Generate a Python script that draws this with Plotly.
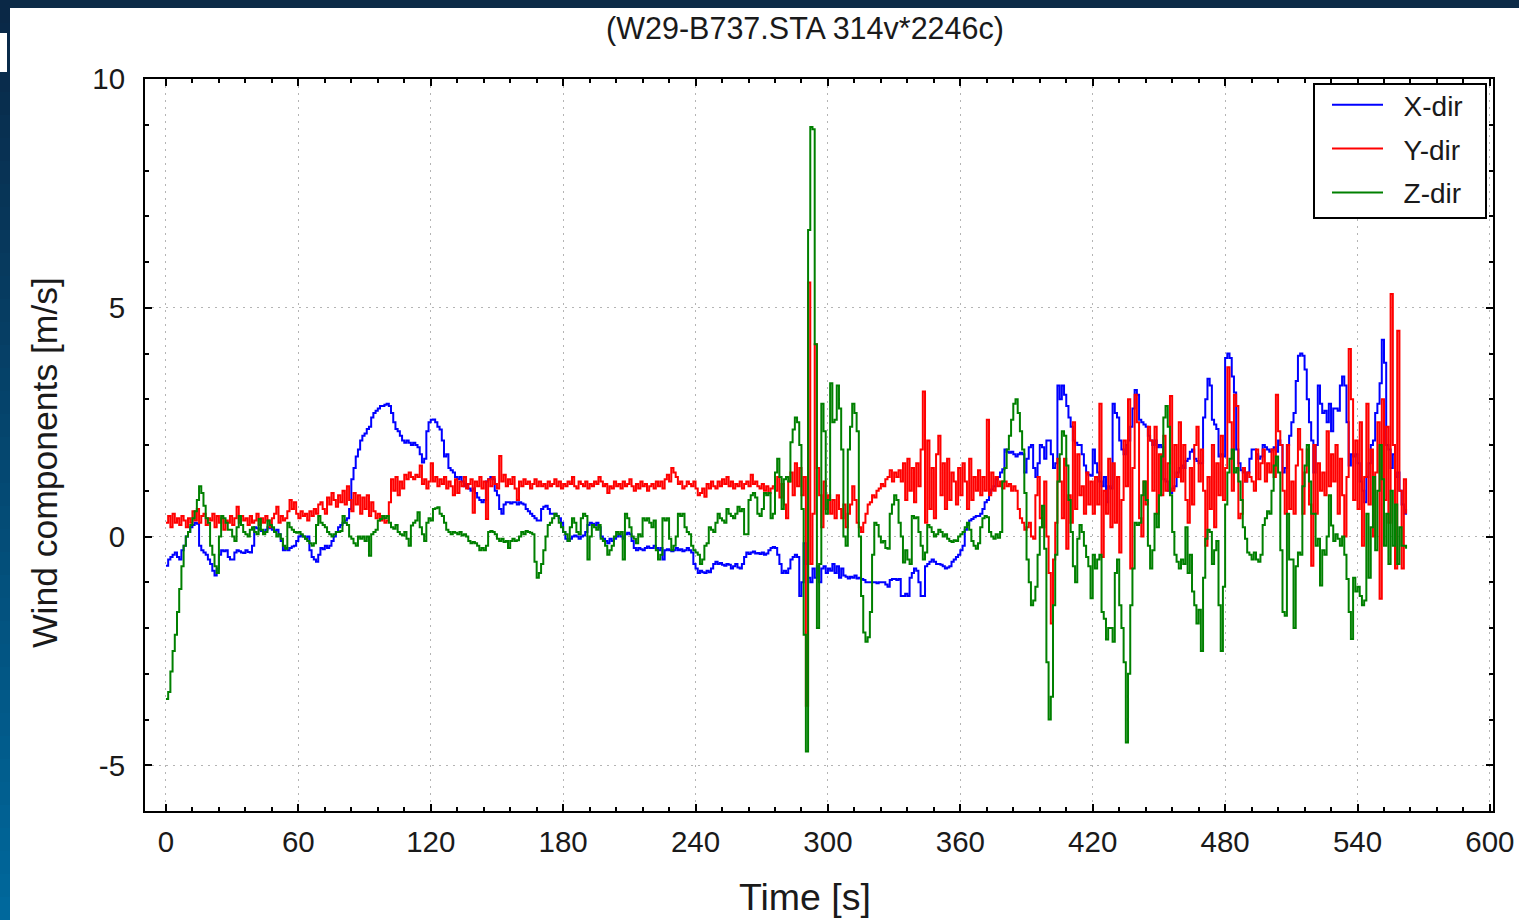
import numpy as np
import plotly.graph_objects as go

# ---------------- data (1 s sampling) ----------------
x_dir = [
    -0.64, -0.5, -0.45, -0.4, -0.35, -0.45, -0.5, -0.3, -0.2, 0.0,
    0.1, 0.2, 0.25, 0.3, 0.28, -0.2, -0.3, -0.35, -0.4, -0.5,
    -0.6, -0.75, -0.85, -0.7, -0.4, -0.3, -0.32, -0.3, -0.45, -0.5,
    -0.5, -0.35, -0.3, -0.32, -0.35, -0.36, -0.3, -0.34, -0.35, -0.2,
    0.2, 0.18, 0.15, 0.12, 0.1, 0.15, 0.2, 0.18, 0.15, 0.12,
    0.15, 0.05, -0.1, -0.3, -0.25, -0.3, -0.25, -0.22, -0.2, -0.1,
    0.0, 0.02, 0.0, -0.05, 0.0, -0.3, -0.45, -0.5, -0.55, -0.4,
    -0.25, -0.28, -0.2, -0.25, -0.2, -0.1, 0.0, 0.1, 0.2, 0.25,
    0.3, 0.35, 0.4, 0.6, 1.25, 1.5, 1.75, 1.9, 2.1, 2.2,
    2.25, 2.35, 2.4, 2.6, 2.7, 2.75, 2.8, 2.85, 2.85, 2.88,
    2.9, 2.85, 2.7, 2.5, 2.35, 2.3, 2.2, 2.1, 2.05, 2.1,
    2.05, 2.0, 2.05, 2.0, 1.95, 1.8, 1.62, 1.7, 2.3, 2.5,
    2.55, 2.56, 2.5, 2.4, 2.34, 2.1, 1.75, 1.8, 1.5, 1.45,
    1.4, 1.3, 1.25, 1.3, 1.2, 1.1, 1.15, 1.05, 1.0, 1.05,
    0.95, 0.85, 0.8, 0.75, 0.8, 1.2, 1.25, 1.3, 1.25, 1.0,
    0.9, 0.6, 0.5, 0.7, 0.75, 0.75, 0.72, 0.75, 0.75, 0.7,
    0.75, 0.72, 0.7, 0.6, 0.55, 0.5, 0.45, 0.4, 0.35, 0.35,
    0.6, 0.65, 0.67, 0.6, 0.5, 0.5, 0.5, 0.45, 0.4, 0.3,
    0.1, -0.05, -0.1, -0.05, 0.0, 0.02, 0.0, -0.05, 0.0, 0.02,
    0.1, 0.25, 0.3, 0.28, 0.25, 0.3, 0.2, 0.0, -0.05, -0.1,
    -0.15, -0.05, -0.1, -0.05, 0.0, 0.05, 0.0, -0.05, 0.05, 0.08,
    0.05, -0.1, -0.25, -0.3, -0.25, -0.28, -0.3, -0.25, -0.22, -0.25,
    -0.25, -0.2, -0.25, -0.3, -0.25, -0.5, -0.3, -0.28, -0.3, -0.32,
    -0.3, -0.25, -0.3, -0.28, -0.32, -0.3, -0.25, -0.3, -0.35, -0.6,
    -0.7, -0.8, -0.75, -0.78, -0.8, -0.75, -0.78, -0.7, -0.6, -0.55,
    -0.6, -0.58, -0.62, -0.64, -0.6, -0.62, -0.7, -0.65, -0.6, -0.68,
    -0.7, -0.6, -0.45, -0.35, -0.38, -0.35, -0.33, -0.37, -0.36, -0.38,
    -0.35, -0.4, -0.37, -0.3, -0.25, -0.23, -0.25, -0.4, -0.6, -0.8,
    -0.75, -0.8, -0.7, -0.5, -0.45, -0.4, -0.45, -1.3, -1.0, -0.15,
    -0.6, -0.9, -1.0, -0.7, -0.9, -0.65, -1.0, -0.7, -0.65, -0.8,
    -0.7, -0.75, -0.6, -0.8, -0.65, -0.9, -0.7, -0.85, -0.88, -0.92,
    -0.88, -0.9, -0.85, -0.92, -0.9, -0.93, -0.95, -1.0, -1.0, -1.0,
    -1.0, -1.0, -1.02, -1.0, -1.0, -1.0, -1.05, -1.1, -0.95, -0.93,
    -0.93, -0.95, -0.93, -1.3, -1.3, -1.25, -1.3, -0.9, -0.8, -0.7,
    -0.75, -1.0, -1.3, -1.3, -0.65, -0.6, -0.55, -0.5, -0.55, -0.6,
    -0.6, -0.62, -0.65, -0.7, -0.68, -0.65, -0.55, -0.5, -0.45, -0.4,
    -0.3, -0.2, 0.15, 0.25, 0.35, 0.38, 0.42, 0.45, 0.45, 0.5,
    0.6, 0.75, 0.8, 0.95, 1.03, 1.1, 1.25, 1.3, 1.4, 1.47,
    1.9, 1.85, 1.83, 1.85, 1.8, 1.75, 1.8, 1.83, 1.8, 1.4,
    1.7, 1.95, 2.0, 1.5, 1.3, 1.6, 2.0, 1.95, 1.7, 2.1,
    2.1, 1.8, 1.5, 1.6, 3.3, 3.0, 3.3, 3.1, 2.85, 2.6,
    2.4, 2.1, 2.05, 2.0, 2.0, 1.8, 1.55, 1.4, 1.35, 1.33,
    1.9, 1.6, 1.4, 1.2, 1.1, 1.3, 0.75, 1.1, 1.05, 2.9,
    2.7, 2.6, 2.1, 1.9, 1.8, 2.0, 2.1, 2.4, 2.8, 3.2,
    3.1, 2.55, 2.5, 2.45, 2.4, 2.2, 2.1, 2.0, 2.1, 1.95,
    2.0, 1.95, 1.25, 1.2, 1.0, 0.95, 1.05, 1.1, 1.4, 1.5,
    1.55, 1.5, 1.65, 1.7, 1.85, 1.9, 1.7, 1.65, 1.6, 1.6,
    2.6, 3.0, 3.45, 3.3, 2.55, 2.45, 2.35, 1.75, 1.8, 1.75,
    3.9, 4.0, 3.9, 3.5, 3.15, 1.9, 1.6, 1.45, 1.4, 1.2,
    1.4, 1.7, 1.9, 1.9, 1.8, 1.7, 1.75, 2.0, 1.95, 1.9,
    1.85, 1.9, 1.95, 1.85, 2.1, 2.0, 1.4, 1.5, 2.0, 2.2,
    2.5, 2.7, 3.4, 3.95, 4.0, 3.95, 3.65, 3.0, 2.5, 2.1,
    1.4, 2.0, 3.3, 2.9, 2.7, 2.75, 2.5, 2.9, 2.3, 2.8,
    2.8, 2.75, 3.3, 3.5, 3.3, 2.5, 1.55, 1.8, 1.75, 1.8,
    1.6, 1.2, 1.0, 0.75, 1.3, 1.6, 2.0, 2.1, 2.7, 2.9,
    3.35, 4.3, 3.8, 2.0, 1.9, 1.5, 1.8, 1.3, 1.4, 1.0,
    0.7, 0.5, 0.6,
]

y_dir = [
    0.3, 0.45, 0.2, 0.5, 0.3, 0.4, 0.25, 0.45, 0.35, 0.2,
    0.4, 0.3, 0.55, 0.35, 0.6, 0.3, 0.45, 0.5, 0.25, 0.4,
    0.35, 0.5, 0.2, 0.45, 0.3, 0.4, 0.15, 0.35, 0.3, 0.45,
    0.25, 0.4, 0.65, 0.3, 0.45, 0.35, 0.4, 0.25, 0.45, 0.3,
    0.35, 0.5, 0.25, 0.4, 0.3, 0.45, 0.35, 0.2, 0.4, 0.5,
    0.65, 0.3, 0.45, 0.35, 0.4, 0.55, 0.8, 0.6, 0.75, 0.5,
    0.4, 0.55, 0.45, 0.5, 0.35, 0.55, 0.45, 0.6, 0.5, 0.7,
    0.75, 0.6, 0.5, 0.85, 0.7, 0.95, 0.8, 0.65, 0.9, 0.75,
    1.0, 0.7, 1.1, 0.8, 0.55, 0.95, 0.7, 0.9, 0.5, 0.85,
    0.6, 0.9, 0.45, 0.75, 0.55, 0.4, 0.5, 0.35, 0.45, 0.3,
    0.35, 0.75, 1.25, 1.0, 1.3, 0.9, 1.2, 1.05, 1.35, 1.25,
    1.4, 1.3, 1.25, 1.35, 1.3, 1.55, 1.15, 1.25, 1.05, 1.2,
    1.6, 1.2, 1.3, 1.1, 1.25, 1.15, 1.3, 1.05, 1.2, 1.1,
    0.9, 1.25, 0.95, 1.2, 1.1, 1.3, 1.05, 1.15, 1.25, 0.52,
    1.2, 1.1, 1.3, 1.05, 1.2, 0.38, 1.25, 1.1, 1.3, 1.15,
    1.05, 1.76, 1.2, 1.35, 1.1, 1.25, 1.15, 1.3, 1.05, 0.8,
    1.2, 1.1, 1.25, 1.15, 1.2, 1.05, 1.15, 1.25, 1.1, 1.2,
    1.1, 1.15, 1.05, 1.2, 1.1, 1.15, 1.25, 1.1, 1.2, 1.05,
    1.15, 1.1, 1.2, 1.15, 1.3, 1.1, 1.05, 1.2, 1.15, 1.1,
    1.2, 1.05, 1.15, 1.1, 1.2, 1.15, 1.3, 1.2, 1.1, 1.15,
    0.95, 1.1, 1.05, 1.2, 1.1, 1.15, 1.05, 1.2, 1.1, 1.15,
    1.25, 1.1, 1.0, 1.15, 1.05, 1.2, 1.1, 1.15, 1.0, 1.1,
    1.15, 1.05, 1.2, 1.1, 1.2, 1.05, 1.25, 1.35, 1.2, 1.5,
    1.4, 1.3, 1.15, 1.2, 1.05, 1.1, 1.2, 1.15, 1.1, 1.2,
    1.05, 0.9, 0.95, 1.05, 0.87, 1.15, 1.05, 1.2, 1.1, 1.05,
    1.2, 1.1, 1.25, 1.15, 1.3, 1.1, 1.2, 1.05, 1.15, 1.1,
    1.2, 1.05, 1.15, 1.2, 1.1, 1.35, 1.15, 1.2, 1.1, 1.05,
    1.15, 1.0, 1.1, 0.95, 1.05, 1.1, 1.0, 1.3, 0.85, 1.15,
    0.7, 0.4, 1.2, 1.4, 0.9, 1.6, 1.1, 1.5, 0.9, 1.3,
    -3.7, 5.55, -0.6, 0.5, 4.2, 1.5, 0.9, 0.2, 1.2, 0.6,
    0.9, 0.5, 0.8, 0.4, 0.9, 0.6, 0.4, 0.7, 0.2, 0.5,
    0.7, 1.1, 0.8, 0.3, 0.2, 0.1, 0.3, 0.5, 0.7, 0.75,
    0.9, 0.85, 1.0, 1.05, 1.15, 1.1, 1.25, 1.3, 1.45, 1.2,
    1.4, 1.3, 1.45, 1.2, 1.6, 0.8, 1.7, 1.0, 1.5, 0.75,
    1.6, 1.1, 1.9, 3.17, 0.3, 2.1, 0.6, 1.5, 0.4, 1.8,
    2.2, 0.9, 1.6, 0.6, 1.7, 0.8, 1.4, 1.2, 0.7, 1.5,
    0.9, 1.6, 1.2, 0.6, 1.7, 0.8, 1.3, 1.0, 1.45, 0.9,
    1.3, 1.0, 2.55, 0.9, 1.4, 1.0, 1.3, 1.1, 1.2, 1.05,
    1.2, 1.1, 1.15, 1.0, 1.1, 1.0, 0.6, 0.4, 0.3, 0.15,
    0.2, 0.3, 0.0, -0.05, 0.9, 1.3, 0.4, 0.2, 1.2, 0.0,
    -0.8, -1.9, -0.5, 0.3, 1.7, 1.2, 0.4, 1.7, -0.27, 0.9,
    0.3, 2.5, 0.6, 1.8, 0.9, 1.1, 0.5, 1.4, 0.7, 1.2,
    0.5, 1.3, 0.7, 2.9, -0.45, 1.0, 0.5, 1.7, 0.2, 1.6,
    0.3, 1.3, -0.35, 0.8, 2.1, 1.1, 3.0, -0.7, 1.5, 3.1,
    2.5, 0.4, 0.0, 1.2, 0.7, 2.4, 2.1, 1.0, 2.4, 0.5,
    1.8, 0.9, 2.2, 1.0, 1.6, 3.07, 1.0, 2.0, 1.3, 2.5,
    1.2, 2.0, 0.8, 0.3, 1.5, 0.7, 2.0, 2.4, 1.2, 1.9,
    1.0, -0.2, 1.3, 0.6, 2.0, 0.2, 1.6, 0.9, 2.2, 0.8,
    1.5, 3.7, 2.5, 1.0, 3.1, 2.85, 0.4, 0.5, 1.5, 1.2,
    1.4, 1.3, 1.2, 1.0, 1.9, 1.25, 1.6, 1.9, 1.2, 1.6,
    1.4, 1.9, 1.3, 3.1, 2.3, 2.0, 1.0, 0.5, 2.0, 0.6,
    1.2, 0.5, 1.55, 2.35, 1.9, 0.5, 1.4, 1.9, 0.7, -0.64,
    2.0, 0.5, 1.6, 1.0, 1.4, 0.9, 2.3, 1.1, 1.8, 1.2,
    2.0, 0.5, 1.7, 0.9, 0.0, 1.3, 4.1, 3.0, 0.8, 2.1,
    0.6, 2.5, -0.2, 1.3, 2.9, 0.7, 1.9, 0.0, 1.4, 2.5,
    -1.36, 3.0, 0.8, 2.4, 0.3, 5.3, 2.0, -0.7, 4.5, 1.0,
    -0.7, 1.25, 0.5,
]

z_dir = [
    -3.55, -3.4, -2.95, -2.5, -2.15, -1.65, -1.15, -0.65, -0.2, 0.0,
    0.1, 0.25, 0.4, 0.55, 0.8, 1.1, 0.95, 0.67, 0.4, 0.3,
    -0.2, -0.4, -0.65, -0.8, 0.0, 0.45, 0.4, 0.3, 0.15, 0.15,
    0.0, -0.1, 0.2, 0.45, 0.25, 0.1, 0.05, 0.0, 0.15, 0.2,
    0.1, 0.05, 0.38, 0.15, 0.05, 0.1, 0.35, 0.25, 0.2, 0.1,
    0.0, 0.05, -0.05, -0.2, -0.27, 0.3, 0.2, 0.15, 0.1, 0.08,
    0.1, 0.05, 0.0, -0.05, -0.1, -0.15, -0.2, -0.15, 0.25, 0.45,
    0.3, 0.25, 0.2, 0.1, 0.05, 0.0, 0.05, 0.1, 0.1, 0.12,
    0.45, 0.3, 0.25, 0.0, -0.05, -0.15, -0.2, 0.0, -0.05, 0.0,
    -0.1, 0.0, -0.42, 0.05, 0.1, 0.15, 0.35, 0.38, 0.45, 0.4,
    0.45, 0.3, 0.2, 0.17, 0.25, 0.1, 0.05, 0.02, 0.1, -0.05,
    -0.2, 0.24, 0.3, 0.35, 0.53, 0.2, 0.05, -0.1, 0.3, 0.4,
    0.35, 0.6, 0.62, 0.64, 0.5, 0.45, 0.3, 0.15, 0.1, 0.05,
    0.1, 0.08, 0.05, 0.1, 0.02, 0.05, 0.0, -0.1, -0.15, -0.12,
    -0.15, -0.2, -0.3, -0.25, -0.3, -0.2, 0.1, 0.12, 0.1, 0.05,
    -0.05, -0.1, -0.05, -0.12, -0.1, -0.25, -0.1, -0.05, -0.1, -0.08,
    0.0, 0.1, 0.05, 0.12, 0.1, 0.08, 0.05, -0.55, -0.9, -0.8,
    -0.6, -0.3, 0.0, 0.25, 0.3, 0.4, 0.5, 0.45, 0.3, 0.2,
    0.1, 0.05, -0.1, 0.2, 0.4, 0.3, 0.1, 0.05, 0.4, 0.5,
    0.45, -0.5, 0.0, 0.25, 0.2, 0.15, 0.25, -0.05, -0.1, -0.2,
    -0.4, -0.3, -0.2, 0.0, 0.1, 0.05, 0.1, -0.5, 0.5, 0.4,
    0.2, 0.0, -0.05, -0.15, 0.05, 0.0, 0.4, 0.35, 0.4, 0.3,
    0.2, 0.35, -0.3, -0.5, -0.4, 0.4, 0.35, 0.4, -0.05, -0.3,
    -0.2, 0.0, 0.5, 0.45, 0.5, 0.2, 0.1, 0.05, -0.2, -0.3,
    -0.35, -0.4, -0.6, -0.5, -0.2, -0.15, 0.2, 0.15, 0.1, 0.3,
    0.5, 0.4, 0.35, 0.3, 0.6, 0.5, 0.45, 0.4, 0.5, 0.65,
    0.55, 0.6, 0.05, 0.05, 0.8, 0.9, 0.95, 0.85, 0.5, 0.45,
    0.6, 0.95, 0.9, 0.95, 0.4, 0.5, 1.4, 1.7, 1.3, 0.6,
    1.25, 1.3, 1.2, 2.06, 2.34, 2.6, 2.5, 2.0, 0.6, -2.15,
    -4.7, 6.7, 8.95, 8.9, 4.2, -2.0, -0.6, 2.9, 2.3, 0.5,
    0.8, 3.35, 2.5, 2.55, 3.3, 2.8, 1.9, 0.0, -0.2, 1.9,
    2.4, 2.9, 2.7, 2.3, 0.0, -1.3, -2.1, -2.3, -2.2, -1.65,
    -0.4, 0.3, 0.25, 0.0, -0.13, -0.1, -0.25, -0.27, 0.5, 0.7,
    0.9, 0.8, 0.3, 0.0, -0.57, -0.3, -0.5, -0.6, 0.45, 0.4,
    0.42, 0.1, -0.2, -0.5, -0.35, 0.25, 0.2, 0.1, 0.0, 0.05,
    0.15, 0.1, 0.0, 0.05, -0.05, -0.1, -0.12, -0.08, -0.1, 0.0,
    0.05, 0.1, 0.2, 0.3, 0.15, -0.1, -0.2, -0.27, -0.15, 0.2,
    0.4, 0.45, 0.42, 0.1, 0.0, -0.05, 0.05, -0.03, 0.1, 1.2,
    1.5, 1.9, 2.2, 2.55, 2.9, 3.0, 2.7, 2.3, 1.9, 0.95,
    -0.5, -1.0, -1.5, -1.4, -1.1, -0.4, 0.2, 0.67, -0.27, -2.75,
    -4.0, -3.5, -1.5, -0.4, 1.2, 1.8, 2.3, 2.2, 1.55, 0.8,
    0.1, -0.65, -1.0, -0.05, 0.25, 0.1, -0.2, -0.45, -0.65, -1.35,
    -0.4, -0.7, -0.5, -0.4, -1.65, -1.8, -2.25, -2.0, -2.0, -2.3,
    -0.8, -0.5, -1.5, -2.0, -2.75, -4.5, -3.0, -1.5, -0.7, 0.3,
    0.25, 0.3, 0.9, 1.2, 0.8, -0.2, -0.7, -0.3, 0.5, 0.2,
    0.9, 1.75, 2.6, 2.85, 2.4, 0.9, 0.1, -0.4, -0.55, -0.7,
    -0.5, -0.6, 0.2, -0.8, -0.4, -1.2, -1.5, -1.9, -1.6, -2.5,
    -0.9, -0.05, 0.15, 0.1, -0.6, -0.3, -0.1, -1.5, -2.5, -1.1,
    0.7, 1.4, 1.7, 1.9, 1.4, 1.5, 1.2, 0.8, 0.2, -0.05,
    -0.35, -0.4, -0.5, -0.35, -0.5, -0.55, -0.4, 0.25, 0.4, 0.55,
    0.5, 1.0, 1.55, 1.75, 1.4, -0.3, -1.65, -1.73, 0.5, -0.5,
    -0.5, -2.0, -0.65, -0.35, -0.4, 1.1, 1.55, 2.0, 1.2, 0.5,
    0.5, -0.2, -0.05, -1.07, -0.3, -0.4, 0.0, 0.9, 0.24, -0.1,
    0.05, -0.05, -0.2, 0.0, -0.4, -0.93, -1.65, -2.24, -0.9, -1.2,
    -1.1, -1.3, -1.5, -1.4, 0.5, -0.9, 0.2, 1.3, -0.3, 1.0,
    2.0, 1.25, -0.2, 0.5, -0.6, 1.0, -0.2, 0.7, -0.6, 0.2,
    -0.2, -0.2, -0.27,
]

series_names = ["X-dir", "Y-dir", "Z-dir"]
series_colors = ["#0000ff", "#ff0000", "#008000"]
x_ticks = [0, 60, 120, 180, 240, 300, 360, 420, 480, 540, 600]
y_ticks = [-5, 0, 5, 10]
title_text = "(W29-B737.STA 314v*2246c)"
x_title = "Time [s]"
y_title = "Wind components [m/s]"

# ---------------- layout geometry (pixels) ----------------
W, H = 1519, 920
ML, MR, MT, MB = 145, 26, 79, 109
PW, PH = W - ML - MR, H - MT - MB
FONT = "Liberation Sans, Arial, sans-serif"
TXT = "#1a1a1a"


def px(xp):
    return (xp - ML) / PW


def py(yp):
    return (H - MB - yp) / PH


fig = go.Figure()
for name, vals, col in zip(series_names, [x_dir, y_dir, z_dir], series_colors):
    t = np.arange(len(vals), dtype=float)
    fig.add_trace(go.Scatter(
        x=t, y=vals, mode="lines", name="\u00a0\u00a0" + name, legendgroup=name,
        line=dict(color=col, width=2, shape="hv"),
    ))

axis_common = dict(
    showline=True, linewidth=2, linecolor="black", mirror="allticks",
    ticks="inside", ticklen=7, tickwidth=2, tickcolor="black",
    showgrid=True, gridcolor="#b4b4b4", gridwidth=1, griddash="2px,5px",
    zeroline=False, automargin=False,
    tickfont=dict(family=FONT, size=29.5, color=TXT),
)

fig.update_xaxes(
    range=[-9.5, 601.4], tickmode="array", tickvals=x_ticks,
    ticktext=[str(v) for v in x_ticks],
    minor=dict(ticks="inside", ticklen=4, tickwidth=2, tickcolor="black",
               dtick=12, tick0=0, showgrid=False),
    ticklabelstandoff=4,
    **axis_common,
)
fig.update_yaxes(
    range=[-6, 10], tickmode="array", tickvals=y_ticks,
    ticktext=[str(v) for v in y_ticks],
    minor=dict(ticks="inside", ticklen=4, tickwidth=2, tickcolor="black",
               dtick=1, tick0=0, showgrid=False),
    ticklabelstandoff=12,
    **axis_common,
)

# decorative window frame: dark top band, gradient left strip, small white box
shapes = []
shapes.append(dict(type="rect", xref="paper", yref="paper",
                   x0=px(0), x1=px(W), y0=py(0), y1=py(8),
                   fillcolor="#0c2b47", line=dict(width=0), layer="above"))
N = 40
c0 = np.array([10, 40, 70])
c1 = np.array([0, 104, 156])
for i in range(N):
    f = i / (N - 1)
    c = (c0 + (c1 - c0) * f).astype(int)
    shapes.append(dict(type="rect", xref="paper", yref="paper",
                       x0=px(0), x1=px(10), y0=py(i * H / N), y1=py((i + 1) * H / N + 1),
                       fillcolor=f"rgb({c[0]},{c[1]},{c[2]})", line=dict(width=0),
                       layer="above"))
shapes.append(dict(type="rect", xref="paper", yref="paper",
                   x0=px(0), x1=px(7), y0=py(33), y1=py(72),
                   fillcolor="white", line=dict(width=0), layer="above"))
# legend frame
shapes.append(dict(type="rect", xref="paper", yref="paper",
                   x0=px(1314), x1=px(1486), y0=py(84), y1=py(218),
                   fillcolor="white", line=dict(color="black", width=2),
                   layer="above"))

annotations = [
    dict(text=x_title, xref="paper", yref="paper", x=px(805), y=py(897),
         xanchor="center", yanchor="middle", showarrow=False,
         font=dict(family=FONT, size=37.5, color=TXT)),
    dict(text=y_title, xref="paper", yref="paper", x=px(45), y=py(463),
         xanchor="center", yanchor="middle", showarrow=False, textangle=-90,
         font=dict(family=FONT, size=35.5, color=TXT)),
]

fig.update_layout(
    width=W, height=H, autosize=False,
    margin=dict(l=ML, r=MR, t=MT, b=MB, pad=0),
    paper_bgcolor="white", plot_bgcolor="white",
    title=dict(text=title_text, x=805 / W, y=1 - 28 / H, xref="container",
               yref="container", xanchor="center", yanchor="middle",
               font=dict(family=FONT, size=30.5, color=TXT)),
    legend=dict(x=px(1327), y=py(80), xanchor="left", yanchor="top",
                bgcolor="rgba(0,0,0,0)", borderwidth=0,
                font=dict(family=FONT, size=28, color=TXT),
                itemwidth=51, tracegroupgap=4.5),
    shapes=shapes, annotations=annotations,
    showlegend=True,
)

fig.write_html("out.html")
